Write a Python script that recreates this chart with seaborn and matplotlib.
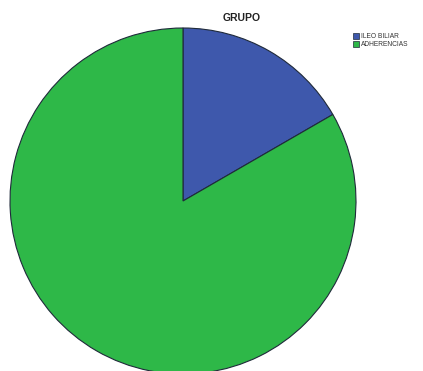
import matplotlib
matplotlib.use("Agg")
import matplotlib.pyplot as plt
import seaborn as sns
from matplotlib.patches import Patch

sns.set_theme(style="white")
plt.rcParams["font.family"] = ["Liberation Sans", "DejaVu Sans"]

# Group counts
categories = ["ILEO BILIAR", "ADHERENCIAS"]
counts = [1, 5]
palette = sns.color_palette(["#3E58AC", "#2EB848"])

W, H = 423, 371
fig = plt.figure(figsize=(W / 100, H / 100), dpi=100)
fig.patch.set_facecolor("white")

# Pie axes, placed in pixel terms
cx, cy, r = 183, 170, 173
ax = fig.add_axes([(cx - r) / W, (cy - r) / H, 2 * r / W, 2 * r / H])
ax.pie(counts, colors=palette, startangle=90, counterclock=False,
       radius=1.0,
       wedgeprops=dict(edgecolor="#1f2a3a", linewidth=0.8))
ax.set_xlim(-1.0, 1.0)
ax.set_ylim(-1.0, 1.0)
ax.set_aspect("equal")
ax.axis("off")

fig.text(242 / W, 1 - 18 / H, "GRUPO", ha="center", va="center",
         fontsize=7.5, fontweight="bold", color="#222222")

handles = [Patch(facecolor=c, edgecolor="#1f2a3a", linewidth=0.5) for c in palette]
leg = fig.legend(handles, categories, loc="upper left",
                 bbox_to_anchor=(350 / W, 1 - 30 / H), frameon=False,
                 fontsize=4.8, handlelength=0.9, handleheight=0.9,
                 handletextpad=0.3, labelspacing=0.15, borderpad=0)
for t in leg.get_texts():
    t.set_color("#333333")

fig.savefig("out.png", dpi=100, facecolor="white")
